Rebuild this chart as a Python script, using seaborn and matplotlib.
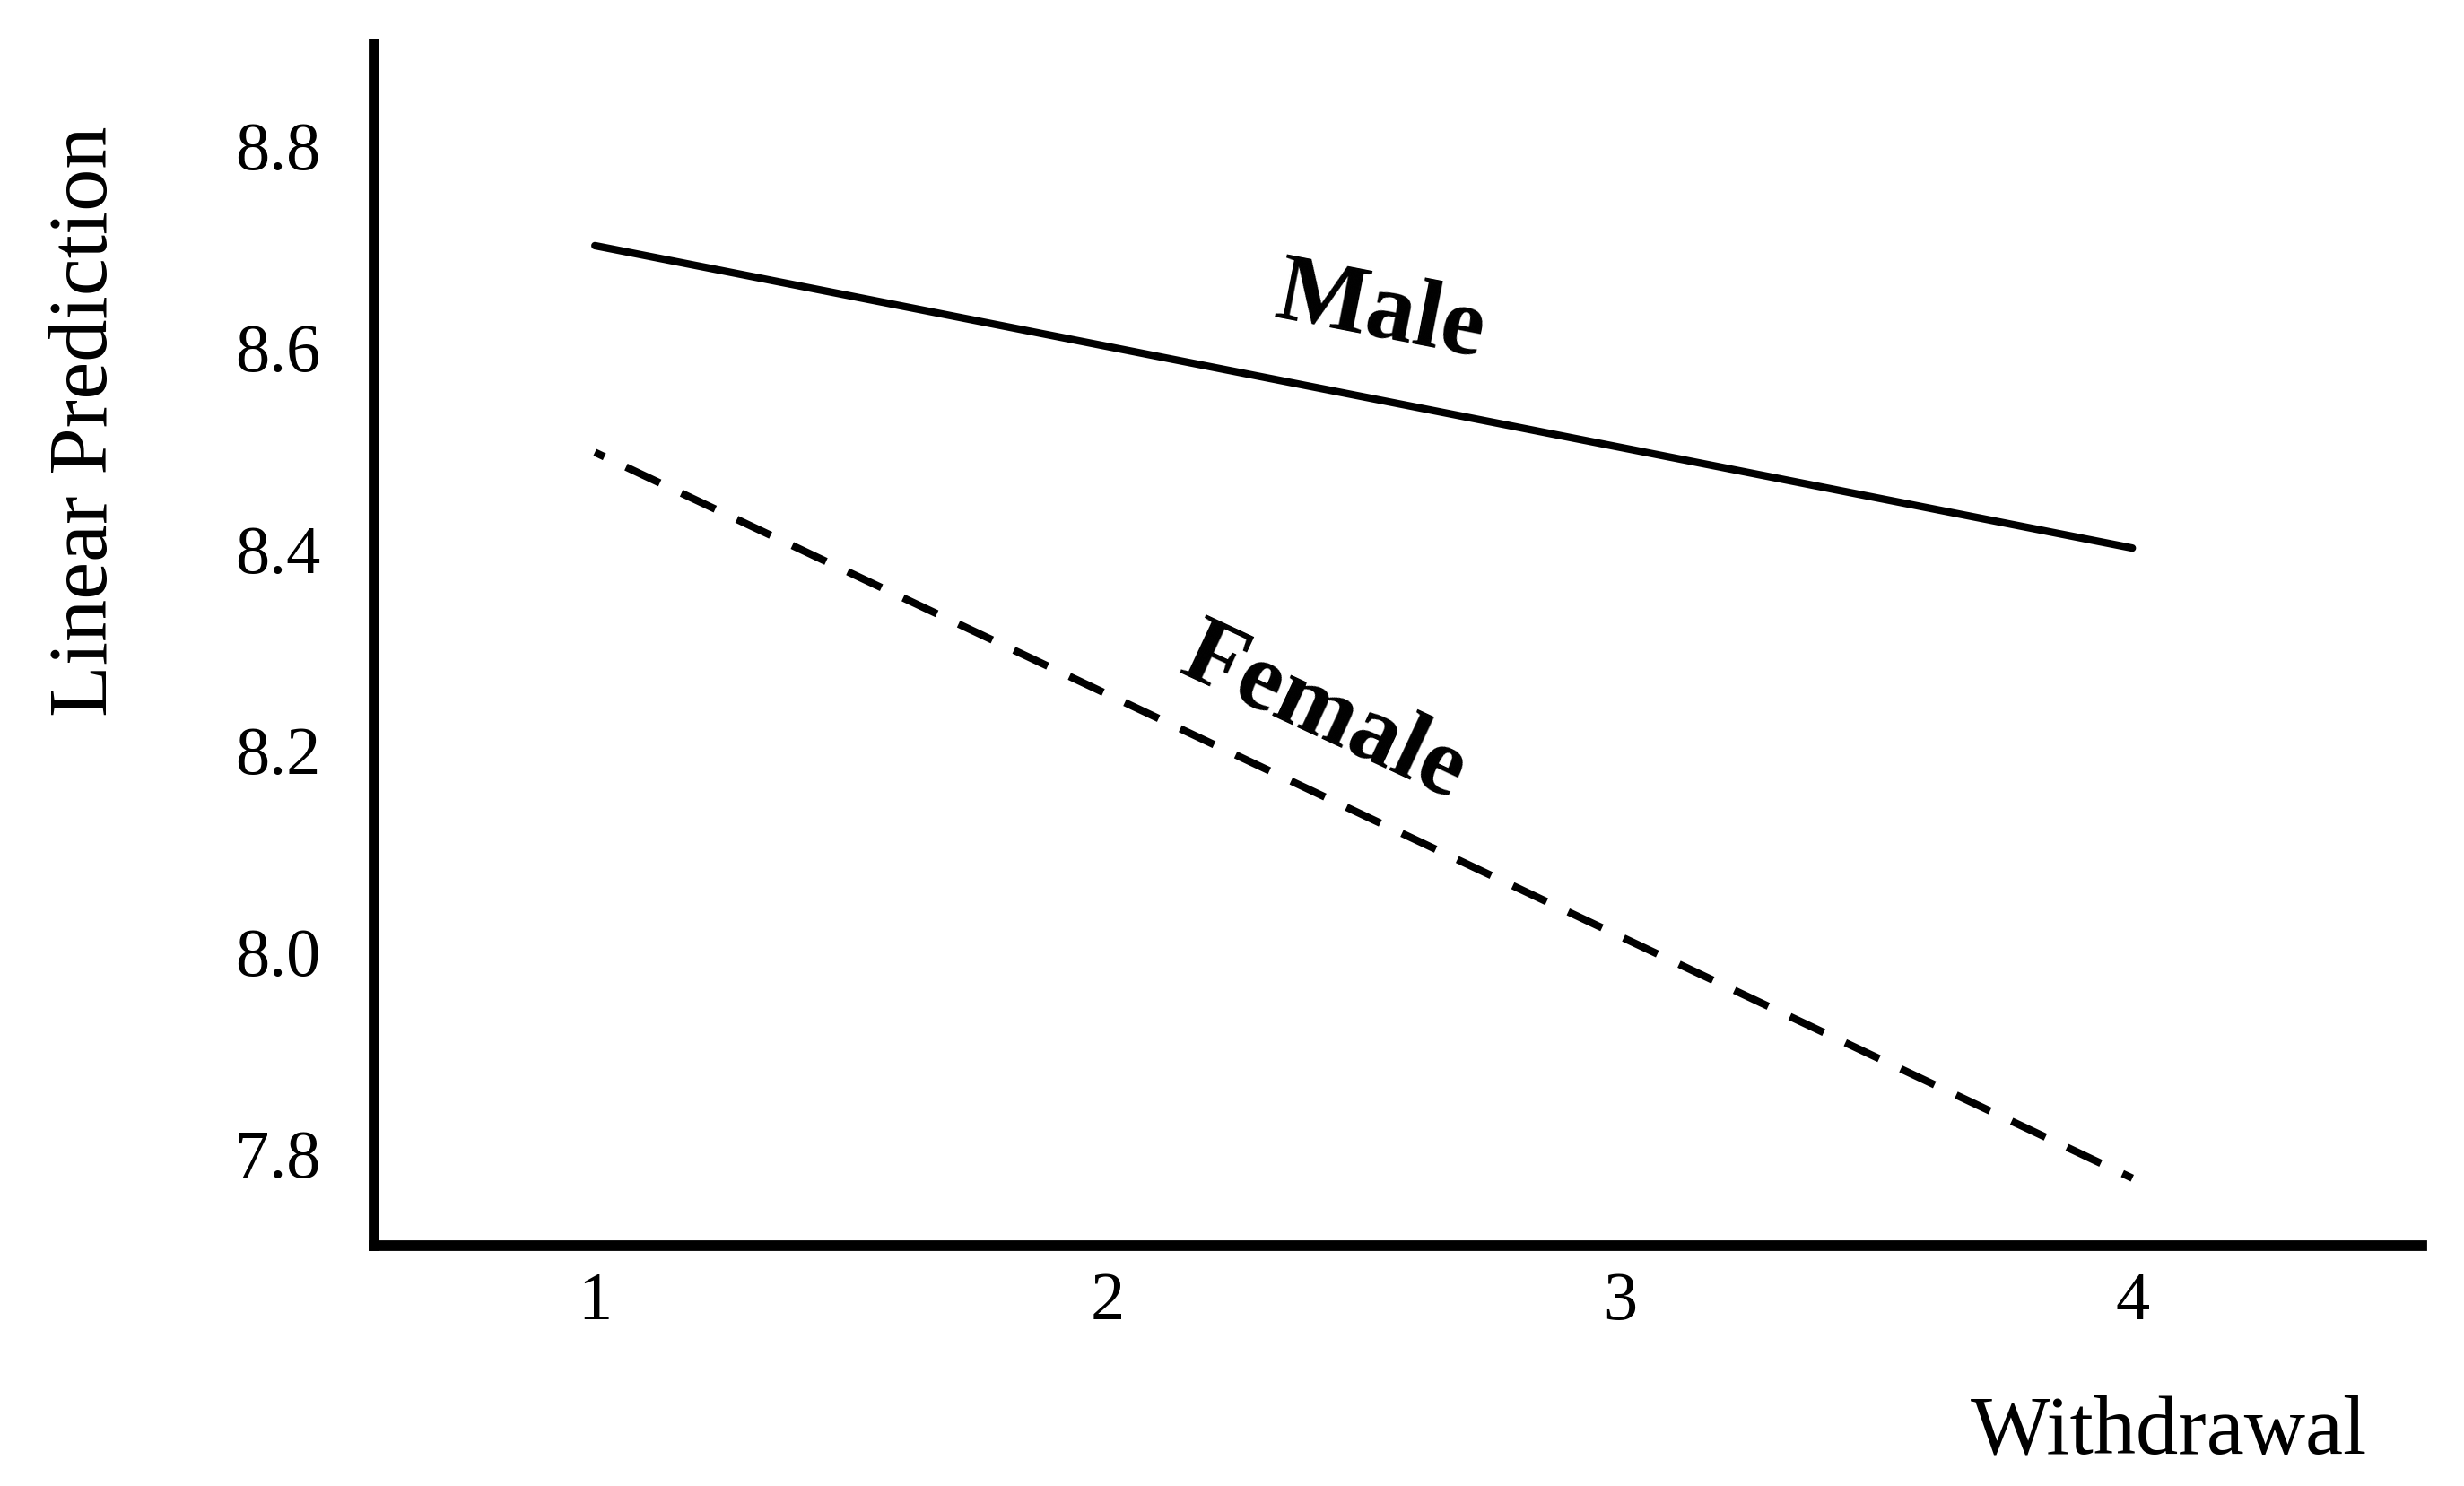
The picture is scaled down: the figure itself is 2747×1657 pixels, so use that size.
import matplotlib
matplotlib.use("Agg")
import matplotlib.pyplot as plt
import seaborn as sns
import pandas as pd

# Data
withdrawal = [1, 4]
male_pred = [8.70, 8.40]
female_pred = [8.495, 7.775]
groups = ["Male", "Female"]
y_ticks = [7.8, 8.0, 8.2, 8.4, 8.6, 8.8]
x_ticks = [1, 2, 3, 4]

df = pd.DataFrame({
    "Withdrawal": withdrawal + withdrawal,
    "Linear Prediction": male_pred + female_pred,
    "Sex": [groups[0]] * len(withdrawal) + [groups[1]] * len(withdrawal),
})

sns.set_theme(style="white")
plt.rcParams["font.family"] = ["Liberation Serif", "DejaVu Serif"]

fig = plt.figure(figsize=(27.47, 16.58), dpi=100)
ax = fig.add_axes([0.1518, 0.1616, 0.8311, 0.8082])

sns.lineplot(
    data=df, x="Withdrawal", y="Linear Prediction", hue="Sex", style="Sex",
    palette={"Male": "black", "Female": "black"},
    dashes={"Male": "", "Female": (5, 3.2)},
    linewidth=6, legend=False, ax=ax,
)
for ln in ax.lines:
    if ln.get_linestyle() not in ("-", "solid"):
        ln.set_linestyle((3.6, (5, 3.2)))

ax.set_xlim(0.569, 4.565)
ax.set_ylim(7.708, 8.90)
ax.set_xticks(x_ticks)
ax.set_xticklabels([str(v) for v in x_ticks])
ax.set_yticks(y_ticks)
ax.set_yticklabels([f"{v:.1f}" for v in y_ticks])
ax.tick_params(axis="both", length=0, labelsize=55, colors="black")
ax.tick_params(axis="x", pad=20)
ax.tick_params(axis="y", pad=43)

for s in ["top", "right"]:
    ax.spines[s].set_visible(False)
for s in ["left", "bottom"]:
    ax.spines[s].set_linewidth(8.5)
    ax.spines[s].set_color("black")
    ax.spines[s].set_capstyle("projecting")

ax.set_xlabel("Withdrawal", fontsize=68, color="black")
ax.set_ylabel("Linear Prediction", fontsize=68, color="black")
ax.xaxis.set_label_coords(0.8765, -0.155)
ax.xaxis.label.set_va("center")
ax.yaxis.set_label_coords(-0.1406, 0.687)
ax.yaxis.label.set_va("center")

ax.text(2.532, 8.633, "Male", fontsize=78, fontweight="bold", rotation=-11,
        ha="center", va="center", rotation_mode="anchor", color="black")
ax.text(2.421, 8.236, "Female", fontsize=78, fontweight="bold", rotation=-25,
        ha="center", va="center", rotation_mode="anchor", color="black")

fig.savefig("out.png", dpi=100, facecolor="white")
